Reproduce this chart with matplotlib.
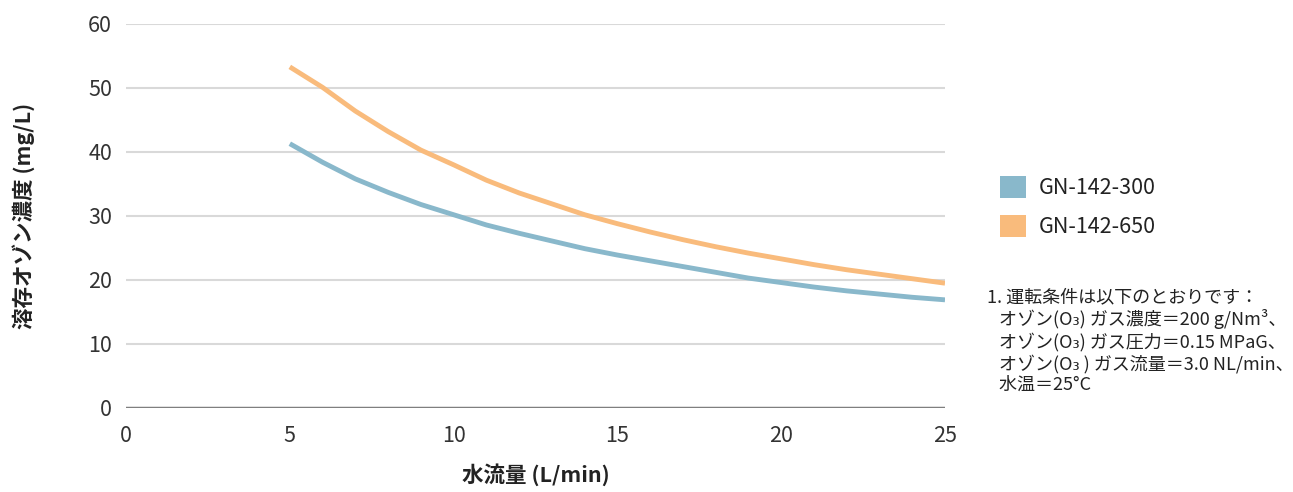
import numpy as np
import matplotlib
matplotlib.use('Agg')
import matplotlib.pyplot as plt
from matplotlib.patches import Patch

plt.rcParams['font.family'] = ['Noto Sans CJK JP', 'DejaVu Sans']

# 水流量 (L/min)
flow = [5, 6, 7, 8, 9, 10, 11, 12, 13, 14, 15, 16, 17, 18, 19, 20, 21, 22, 23, 24, 25]
# 溶存オゾン濃度 (mg/L)
gn300 = [41.3, 38.4, 35.8, 33.7, 31.8, 30.2, 28.6, 27.3, 26.1, 24.9, 23.9,
         23.0, 22.1, 21.2, 20.3, 19.6, 18.9, 18.3, 17.8, 17.3, 16.9]
gn650 = [53.3, 50.1, 46.4, 43.2, 40.3, 38.0, 35.6, 33.6, 31.9, 30.2, 28.8,
         27.5, 26.3, 25.2, 24.2, 23.3, 22.4, 21.6, 20.9, 20.2, 19.5]
labels = ['GN-142-300', 'GN-142-650']
colors = ['#89b8cb', '#f9bb7c']

xticks = [0, 5, 10, 15, 20, 25]
yticks = [0, 10, 20, 30, 40, 50, 60]

fig = plt.figure(figsize=(12.93, 4.92), dpi=100)
ax = fig.add_axes([126 / 1293, 1 - 408 / 492, (945 - 126) / 1293, (408 - 24) / 492])

for y in yticks[1:]:
    ax.axhline(y, color='#d9d9d9', lw=1.5, zorder=1)
ax.axhline(0, color='#7f7f7f', lw=2.5, zorder=3)

ax.plot(flow, gn300, color=colors[0], lw=3.5, solid_capstyle='butt', solid_joinstyle='round', zorder=2)
ax.plot(flow, gn650, color=colors[1], lw=3.5, solid_capstyle='butt', solid_joinstyle='round', zorder=2)

ax.set_xlim(0, 25)
ax.set_ylim(0, 60)
ax.set_xticks(xticks)
ax.set_yticks(yticks)
ax.tick_params(axis='both', length=0, labelsize=15.5, labelcolor='#333333')
ax.tick_params(axis='x', pad=12)
ax.tick_params(axis='y', pad=10)
for s in ax.spines.values():
    s.set_visible(False)

ax.set_xlabel('水流量 (L/min)', fontsize=15.5, fontweight='bold', color='#222222', labelpad=12)
ax.set_ylabel('溶存オゾン濃度 (mg/L)', fontsize=15.5, fontweight='bold', color='#222222', labelpad=38)

handles = [Patch(facecolor=c, edgecolor='none') for c in colors]
fig.legend(handles, labels, loc='center left', bbox_to_anchor=(981 / 1293, 1 - 207 / 492),
           frameon=False, fontsize=15.5, handlelength=1.2, handleheight=1.2,
           handletextpad=0.6, labelspacing=0.75, labelcolor='#222222')

note = ('1. 運転条件は以下のとおりです：\n'
        '   オゾン(O₃) ガス濃度＝200 g/Nm³、\n'
        '   オゾン(O₃) ガス圧力＝0.15 MPaG、\n'
        '   オゾン(O₃ ) ガス流量＝3.0 NL/min、\n'
        '   水温＝25°C')
fig.text(987 / 1293, 1 - 288 / 492, note, fontsize=13, color='#222222',
         va='top', ha='left', linespacing=1.2)

fig.savefig('out.png', dpi=100)
